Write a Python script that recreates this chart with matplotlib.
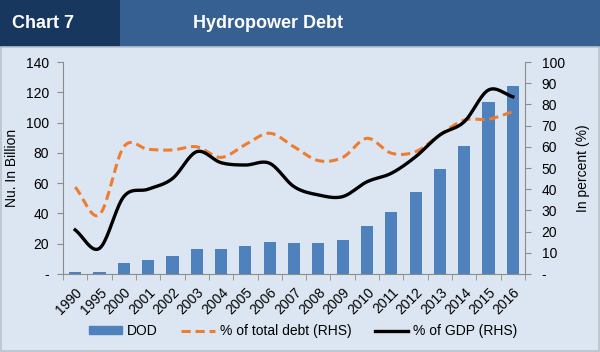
import matplotlib
matplotlib.use('Agg')
import matplotlib.pyplot as plt
import matplotlib.patches as mpatches
from matplotlib.lines import Line2D
import numpy as np

BG = '#dce6f2'; DARK = '#17375e'; BLUE_H = '#366092'
BAR = '#4f81bd'; ORANGE = '#ed7d31'; AXIS = '#8c8c8c'
plt.rcParams.update({'font.family': 'Liberation Sans', 'font.size': 10})

years = ['1990', '1995', '2000', '2001', '2002', '2003', '2004', '2005', '2006',
         '2007', '2008', '2009', '2010', '2011', '2012', '2013', '2014', '2015', '2016']
dod = [1.2, 1.3, 7.3, 9.2, 12.0, 16.7, 16.7, 18.5, 21.3, 20.6,
       20.3, 22.5, 31.7, 40.8, 54.0, 69.4, 84.8, 113.6, 124.2]
pct_debt = [41, 28, 60, 58.8, 58.5, 60, 55, 61, 66.4, 60,
            53.5, 55, 64, 57, 57.7, 65.6, 72.6, 73, 76.6]
pct_gdp = [20.8, 12.1, 36.5, 40, 45, 57.7, 52.5, 51.4, 52.2, 41.2,
           37.3, 36.5, 43.5, 47.5, 55.3, 65.6, 71.8, 86.8, 83.6]


def smooth(x, y, n=20):
    # Catmull-Rom curve, like Excel's "smoothed line"
    x = np.asarray(x, float); y = np.asarray(y, float)
    px = np.concatenate([[2 * x[0] - x[1]], x, [2 * x[-1] - x[-2]]])
    py = np.concatenate([[2 * y[0] - y[1]], y, [2 * y[-1] - y[-2]]])
    t = np.linspace(0, 1, n, endpoint=False)[:, None]
    xs, ys = [], []
    for i in range(1, len(px) - 2):
        for p, out in ((px, xs), (py, ys)):
            p0, p1, p2, p3 = p[i - 1], p[i], p[i + 1], p[i + 2]
            out.append((0.5 * (2 * p1 + (-p0 + p2) * t + (2 * p0 - 5 * p1 + 4 * p2 - p3) * t ** 2
                               + (-p0 + 3 * p1 - 3 * p2 + p3) * t ** 3)).ravel())
    return np.concatenate(xs + [[x[-1]]]), np.concatenate(ys + [[y[-1]]])


fig = plt.figure(figsize=(6, 3.52), dpi=100)
fig.patch.set_facecolor(BG)

# header band
fig.patches.append(mpatches.Rectangle((0, 1 - 47 / 352), 1, 47 / 352, transform=fig.transFigure,
                                      facecolor=BLUE_H, edgecolor='none', zorder=0))
fig.patches.append(mpatches.Rectangle((0, 1 - 47 / 352), 0.2, 47 / 352, transform=fig.transFigure,
                                      facecolor=DARK, edgecolor='none', zorder=1))
fig.patches.append(mpatches.Rectangle((0.002, 0.004), 0.996, 1 - 47 / 352 - 0.004, transform=fig.transFigure,
                                      facecolor='none', edgecolor='#b8c2cc', lw=1.2, zorder=1))
fig.text(12 / 600, 1 - 23 / 352, 'Chart 7', color='white', fontsize=13, fontweight='bold',
         ha='left', va='center')
fig.text(268 / 600, 1 - 23 / 352, 'Hydropower Debt', color='white', fontsize=13, fontweight='bold',
         ha='center', va='center')

ax = fig.add_axes([63 / 600, 78 / 352, 462 / 600, 212 / 352])
ax.set_facecolor('none')
x = np.arange(len(years))
ax.bar(x, dod, width=0.5, color=BAR, zorder=2)
ax.set_xlim(-0.5, len(years) - 0.5)
ax.set_ylim(0, 140)
ax.set_yticks(range(0, 141, 20))
ax.set_yticklabels(['-'] + [str(v) for v in range(20, 141, 20)])
ax.set_xticks(x)
ax.set_xticklabels(years, rotation=45, ha='right', rotation_mode='anchor')
ax.set_xticks(np.arange(-0.5, len(years), 1), minor=True)
ax.tick_params(axis='x', which='major', length=0, pad=8)
ax.tick_params(axis='x', which='minor', length=4, color=AXIS)
ax.tick_params(axis='y', length=4, color=AXIS, pad=6)
ax.set_ylabel('Nu. In Billion', fontsize=10)
ax.yaxis.set_label_coords(-0.095, 0.5)
for s in ['top', 'right']:
    ax.spines[s].set_visible(False)
for s in ['left', 'bottom']:
    ax.spines[s].set_color(AXIS)

ax2 = ax.twinx()
ax2.set_ylim(0, 100)
ax2.set_yticks(range(0, 101, 10))
ax2.set_yticklabels(['-'] + [str(v) for v in range(10, 101, 10)])
ax2.tick_params(axis='y', length=4, color=AXIS, pad=8)
for s in ['top', 'left', 'bottom']:
    ax2.spines[s].set_visible(False)
ax2.spines['right'].set_color(AXIS)
sx, sy = smooth(x, pct_debt)
ax2.plot(sx, sy, color=ORANGE, lw=2.2, dashes=(3, 1.6), zorder=3)
sx, sy = smooth(x, pct_gdp)
ax2.plot(sx, sy, color='black', lw=2.4, zorder=4)
ax2.set_ylabel('In percent (%)', fontsize=10)
ax2.yaxis.set_label_coords(1.11, 0.5)

handles = [mpatches.Patch(color=BAR),
           Line2D([], [], color=ORANGE, lw=2.2, dashes=(3, 1.6)),
           Line2D([], [], color='black', lw=2.4)]
fig.legend(handles, ['DOD', '% of total debt (RHS)', '% of GDP (RHS)'], loc='center',
           bbox_to_anchor=(0.505, 21 / 352), ncol=3, frameon=False, handlelength=2.4,
           handleheight=0.5, columnspacing=1.7, handletextpad=0.35, fontsize=10)

fig.savefig('out.png', dpi=100, facecolor=BG)
